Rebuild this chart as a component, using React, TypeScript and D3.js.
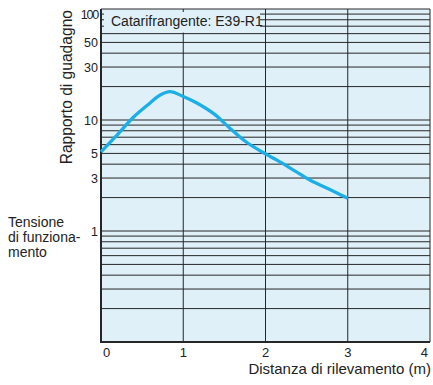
import React, { useEffect, useRef } from 'react';
import * as d3 from 'd3';

// curva del rapporto di guadagno
const distance = [0, 0.2, 0.4, 0.6, 0.72, 0.84, 1.0, 1.16, 1.37, 1.57, 1.77, 2.0, 2.15, 2.35, 2.55, 2.75, 3.0];
const gain = [5.15, 7.4, 10.7, 14.3, 16.8, 18, 16.3, 14.3, 11.4, 8.4, 6.3, 4.95, 4.3, 3.5, 2.85, 2.43, 1.97];

const xTicks = [0, 1, 2, 3, 4];
const yTickLabels = [100, 50, 30, 10, 5, 3, 1];
const reflectorLabel = 'Catarifrangente: E39-R1';
const yTitle = 'Rapporto di guadagno';
const xTitle = 'Distanza di rilevamento (m)';
const sideNote = ['Tensione', 'di funziona-', 'mento'];

function App() {
    const svgRef = useRef<SVGSVGElement>(null);

    useEffect(() => {
        const svg = d3.select(svgRef.current);
        svg.selectAll('*').remove();

        const width = 433;
        const height = 385;
        const marginTop = 9;
        const marginRight = 3;
        const marginBottom = 43;
        const marginLeft = 101;
        const font = '"Liberation Sans", Arial, Helvetica, sans-serif';
        const bg = '#dff0f9';
        const gridColor = '#262626';

        const x = d3.scaleLinear()
            .domain([0, 4])
            .range([marginLeft, width - marginRight]);

        const y = d3.scaleLog()
            .domain([0.1, 100])
            .range([height - marginBottom, marginTop]);

        // sfondo area grafico
        svg.append('rect')
            .attr('x', x(0))
            .attr('y', y(100))
            .attr('width', x(4) - x(0))
            .attr('height', y(0.1) - y(100))
            .attr('fill', bg);

        // griglia orizzontale: ogni multiplo intero di ogni decade
        const gridVals: number[] = [];
        [0.1, 1, 10].forEach(dec => {
            for (let k = 2; k <= 9; k++) gridVals.push(+(dec * k).toFixed(2));
        });
        gridVals.push(1, 10, 100);

        svg.append('g')
            .selectAll('line')
            .data(gridVals)
            .join('line')
            .attr('x1', x(0))
            .attr('x2', x(4))
            .attr('y1', d => y(d))
            .attr('y2', d => y(d))
            .attr('stroke', gridColor)
            .attr('stroke-width', 1);

        // griglia verticale
        svg.append('g')
            .selectAll('line')
            .data(xTicks.slice(1))
            .join('line')
            .attr('x1', d => x(d))
            .attr('x2', d => x(d))
            .attr('y1', y(100))
            .attr('y2', y(0.1))
            .attr('stroke', gridColor)
            .attr('stroke-width', 1);

        // assi (sinistro e inferiore piu' spessi)
        svg.append('line')
            .attr('x1', x(0)).attr('x2', x(0))
            .attr('y1', y(100)).attr('y2', y(0.1) + 1)
            .attr('stroke', gridColor)
            .attr('stroke-width', 2);
        svg.append('line')
            .attr('x1', x(0) - 1).attr('x2', x(4))
            .attr('y1', y(0.1)).attr('y2', y(0.1))
            .attr('stroke', gridColor)
            .attr('stroke-width', 2);

        // riquadro etichetta catarifrangente
        svg.append('rect')
            .attr('x', x(0) + 3)
            .attr('y', y(100) + 3)
            .attr('width', x(0.96) - x(0) + 77)
            .attr('height', y(60) - y(100) - 4)
            .attr('fill', bg);
        svg.append('text')
            .attr('x', x(0) + 10)
            .attr('y', y(100) + 16.5)
            .attr('font-family', font)
            .attr('font-size', 14)
            .attr('fill', '#222')
            .text(reflectorLabel);

        // curva
        const data = distance.map((d, i) => ({ d, g: gain[i] }));
        const line = d3.line<{ d: number; g: number }>()
            .x(p => x(p.d))
            .y(p => y(p.g))
            .curve(d3.curveCatmullRom.alpha(0.5));

        svg.append('path')
            .datum(data)
            .attr('fill', 'none')
            .attr('stroke', '#1caee6')
            .attr('stroke-width', 3.3)
            .attr('d', line);

        // etichette asse y
        svg.append('g')
            .selectAll('text')
            .data(yTickLabels)
            .join('text')
            .attr('x', x(0) - 3)
            .attr('y', d => y(d) + (d === 100 ? 5 : 0))
            .attr('dy', '0.36em')
            .attr('text-anchor', 'end')
            .attr('font-family', font)
            .attr('font-size', 12.5)
            .attr('letter-spacing', d => (d === 100 ? -1.2 : 0))
            .attr('fill', '#222')
            .text(d => d);

        // etichette asse x
        svg.append('g')
            .selectAll('text')
            .data(xTicks)
            .join('text')
            .attr('x', d => x(d) + (d === 0 ? 2 : 0) - (d === 4 ? 2 : 0))
            .attr('y', y(0.1) + 14.5)
            .attr('text-anchor', d => (d === 0 ? 'start' : d === 4 ? 'end' : 'middle'))
            .attr('font-family', font)
            .attr('font-size', 13)
            .attr('fill', '#222')
            .text(d => d);

        // titolo asse y
        svg.append('text')
            .attr('transform', `translate(72,${y(100) + 1}) rotate(-90)`)
            .attr('text-anchor', 'end')
            .attr('font-family', font)
            .attr('font-size', 15.6)
            .attr('fill', '#222')
            .text(yTitle);

        // titolo asse x
        svg.append('text')
            .attr('x', width - 2)
            .attr('y', height - 11)
            .attr('text-anchor', 'end')
            .attr('font-family', font)
            .attr('font-size', 15)
            .attr('fill', '#222')
            .text(xTitle);

        // nota tensione di funzionamento
        svg.append('text')
            .attr('font-family', font)
            .attr('font-size', 14)
            .attr('fill', '#222')
            .selectAll('tspan')
            .data(sideNote)
            .join('tspan')
            .attr('x', 8)
            .attr('y', (d, i) => 227 + i * 15)
            .text(d => d);
    }, []);

    return (
        <svg
            ref={svgRef}
            width={433}
            height={385}
            style={{ position: 'absolute', left: 0, top: 0, background: '#fff' }}
        ></svg>
    );
}

export default App;
